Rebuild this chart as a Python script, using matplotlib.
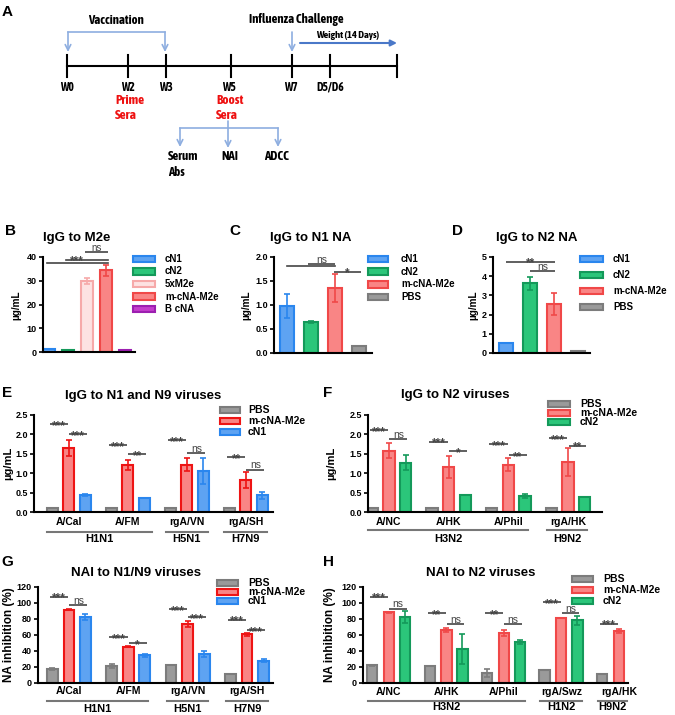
import matplotlib
matplotlib.use('Agg')
import matplotlib.pyplot as plt
import matplotlib.transforms as mtransforms
from matplotlib import font_manager
import numpy as np
from matplotlib.patches import Rectangle

# ---- data ----
b_labels = ['cN1', 'cN2', '5xM2e', 'm-cNA-M2e', 'B cNA']
b_vals = [1.1, 0.9, 30.0, 34.4, 1.0]
b_err = [0, 0, 1.3, 2.4, 0]

c_labels = ['cN1', 'cN2', 'm-cNA-M2e', 'PBS']
c_vals = [0.98, 0.64, 1.36, 0.14]
c_err = [0.25, 0.02, 0.29, 0]

d_labels = ['cN1', 'cN2', 'm-cNA-M2e', 'PBS']
d_vals = [0.54, 3.63, 2.56, 0.13]
d_err = [0, 0.35, 0.58, 0]

e_groups = ['A/Cal', 'A/FM', 'rgA/VN', 'rgA/SH']
e_pbs = [0.11, 0.11, 0.11, 0.11]
e_mcna = [1.65, 1.22, 1.22, 0.82]
e_mcna_err = [0.2, 0.13, 0.17, 0.2]
e_cn1 = [0.44, 0.36, 1.06, 0.43]
e_cn1_err = [0.03, 0, 0.34, 0.09]
e_sig = [[(2.26, '***'), (2.01, '***')], [(1.72, '***'), (1.49, '**')],
         [(1.85, '***'), (1.52, 'ns')], [(1.41, '**'), (1.09, 'ns')]]

f_groups = ['A/NC', 'A/HK', 'A/Phil', 'rgA/HK']
f_pbs = [0.11, 0.11, 0.11, 0.11]
f_mcna = [1.58, 1.16, 1.22, 1.29]
f_mcna_err = [0.19, 0.29, 0.16, 0.35]
f_cn2 = [1.27, 0.44, 0.41, 0.39]
f_cn2_err = [0.2, 0, 0.06, 0]
f_sig = [[(2.11, '***'), (1.87, 'ns')], [(1.81, '***'), (1.56, '*')],
         [(1.74, '***'), (1.47, '**')], [(1.90, '***'), (1.71, '**')]]

g_groups = ['A/Cal', 'A/FM', 'rgA/VN', 'rgA/SH']
g_pbs = [17.2, 21.0, 22.2, 11.7]
g_pbs_err = [1.0, 2.5, 0, 0]
g_mcna = [91.5, 45.3, 73.9, 60.8]
g_mcna_err = [0.5, 0.5, 3.5, 1.5]
g_cn1 = [82.2, 34.4, 36.0, 27.7]
g_cn1_err = [4.0, 1.5, 4.0, 2.0]
g_sig = [[(108, '***'), (97.8, 'ns')], [(57, '***'), (50, '*')],
         [(92, '***'), (82, '***')], [(79, '***'), (66, '***')]]

h_groups = ['A/NC', 'A/HK', 'A/Phil', 'rgA/Swz', 'rgA/HK']
h_pbs = [22.1, 20.8, 12.9, 15.8, 11.3]
h_pbs_err = [0.5, 0, 5.0, 0, 0]
h_mcna = [88.3, 65.8, 62.5, 81.3, 65.0]
h_mcna_err = [0.5, 2.5, 4.0, 0.5, 3.0]
h_cn2 = [82.5, 42.5, 51.3, 78.3, np.nan]
h_cn2_err = [7.0, 19.0, 2.0, 6.0, 0]
h_sig = [[(108, '***'), (93, 'ns')], [(87.5, '**'), (74, 'ns')],
         [(87.5, '**'), (74, 'ns')], [(101, '***'), (87.5, 'ns')], [(74, '***'), None]]

# colours
BLUE = ('#5ea3f2', '#2a86ee')
GREEN = ('#2bc67a', '#14995a')
RED = ('#f98585', '#f04848')
RED2 = ('#f98585', '#ee1414')
PINK = ('#fde2e2', '#f6a9a9')
PURP = ('#c43dcc', '#9c1fb0')
GRAY = ('#9a9a9a', '#7c7c7c')
LBLUE = '#8eaee0'
SIGC = '#444444'

W, H = 675, 715
plt.rcParams['font.family'] = ['Liberation Sans', 'DejaVu Sans']
plt.rcParams['font.weight'] = 'bold'

# schematic uses a bold narrow face if one is installed, else a smaller regular one
narrow = sorted({f.name for f in font_manager.fontManager.ttflist
                 if ('Narrow' in f.name or 'Condensed' in f.name)
                 and f.weight in (700, 'bold')})
if narrow:
    NARROW = [narrow[0], 'Liberation Sans', 'DejaVu Sans']
    NS = 1.0
else:
    NARROW = ['Liberation Sans', 'DejaVu Sans']
    NS = 0.86

fig = plt.figure(figsize=(6.75, 7.15), dpi=100)

# overlay in pixel coordinates for schematic, labels and legends
ov = fig.add_axes([0, 0, 1, 1])
ov.set_xlim(0, W)
ov.set_ylim(H, 0)
ov.axis('off')
ov.patch.set_visible(False)


def axrect(x0, x1, y0, y1):
    return fig.add_axes([x0 / W, 1 - y1 / H, (x1 - x0) / W, (y1 - y0) / H])


def style(ax, yticks, fmt, fs):
    for s in ['top', 'right']:
        ax.spines[s].set_visible(False)
    for s in ['left', 'bottom']:
        ax.spines[s].set_linewidth(1.5)
    ax.set_yticks(yticks)
    ax.set_yticklabels([fmt.format(v) for v in yticks], fontsize=fs, fontweight='bold')
    ax.tick_params(axis='y', length=3, width=1.2, pad=1.5)
    ax.set_xticks([])
    ax.patch.set_visible(False)


def legend(x, tx, y0, dy, labels, cols, hw=21, hh=6, fs=7):
    for i, (l, c) in enumerate(zip(labels, cols)):
        y = y0 + i * dy
        ov.add_patch(Rectangle((x, y - hh / 2), hw, hh, facecolor=c[0], edgecolor=c[1], lw=1.5))
        ov.text(tx, y, l, fontsize=fs, va='center', ha='left')


def sig_text(ax, x, y, t, fs_ns=7.5):
    if '*' in t:
        ax.annotate(t, xy=(x, y), xytext=(0, -3.4), textcoords='offset points',
                    ha='center', va='baseline', fontsize=8.5, color=SIGC,
                    annotation_clip=False)
    else:
        ax.annotate(t, xy=(x, y), xytext=(0, 0.9), textcoords='offset points',
                    ha='center', va='baseline', fontsize=fs_ns, color=SIGC,
                    fontweight='normal', annotation_clip=False)


def sig(ax, x0, x1, y, t, fs_ns=7.5):
    ax.plot([x0, x1], [y, y], color=SIGC, lw=1.2, clip_on=False, solid_capstyle='butt')
    sig_text(ax, (x0 + x1) / 2, y, t, fs_ns)


def bars(ax, x, vals, errs, cols, width):
    x = np.asarray(x, dtype=float)
    vals = np.asarray(vals, dtype=float)
    errs = np.asarray(errs, dtype=float)
    fcs = [c[0] for c in cols]
    ecs = [c[1] for c in cols]
    ax.bar(x, vals, width, color=fcs, edgecolor=ecs, lw=1.5)
    for xi, v, e, ec in zip(x, vals, errs, ecs):
        if e > 0 and not np.isnan(v):
            ax.errorbar(xi, v, yerr=e, fmt='none', ecolor=ec, elinewidth=1.2,
                        capsize=2.5, capthick=1.2)


def grouped(ax, series, offs, width, sigs, names, ylab, spans, snames, yline, yslab):
    for (vals, errs, col), o in zip(series, offs):
        n = len(vals)
        bars(ax, np.arange(n) + o, vals, errs, [col] * n, width)
    for i, pair in enumerate(sigs):
        if pair[0]:
            sig(ax, i - 0.32, i - 0.01, pair[0][0], pair[0][1])
        if pair[1]:
            sig(ax, i + 0.01, i + 0.31, pair[1][0], pair[1][1])
    tr = mtransforms.blended_transform_factory(ax.transData, ov.transData)
    for i, nm in enumerate(names):
        ax.text(i, ylab, nm, transform=tr, ha='center', va='center', fontsize=7.5, clip_on=False)
    for (a, b), nm in zip(spans, snames):
        ax.plot([a, b], [yline, yline], color='#777777', lw=1.5, transform=tr, clip_on=False)
        ax.text((a + b) / 2, yslab, nm, transform=tr, ha='center', va='center',
                fontsize=8, clip_on=False)


# ---------------- panel A ----------------
ov.text(7, 12, 'A', fontsize=11, ha='center', va='center')
ov.plot([67, 397], [66, 66], color='black', lw=1.5)
for tx in [67, 128, 166, 231, 292, 330, 397]:
    ov.plot([tx, tx], [55, 77], color='black', lw=1.5)
for tx, lab in zip([67, 128, 166, 229, 291, 330], ['W0', 'W2', 'W3', 'W5', 'W7', 'D5/D6']):
    ov.text(tx, 87.5, lab, fontsize=8.3 * NS, ha='center', va='center', family=NARROW)
ov.text(116, 20, 'Vaccination', fontsize=9.2 * NS, ha='center', va='center', family=NARROW)
ov.text(296, 20, 'Influenza Challenge', fontsize=9.2 * NS, ha='center', va='center', family=NARROW)
ov.text(348, 35.5, 'Weight (14 Days)', fontsize=7.5 * NS, ha='center', va='center', family=NARROW)
ov.plot([68, 165], [32, 32], color=LBLUE, lw=1.2)
for tx in [68, 165, 292]:
    ov.annotate('', xy=(tx, 52), xytext=(tx, 32),
                arrowprops=dict(arrowstyle='->', color=LBLUE, lw=1.2, shrinkA=0, shrinkB=0))
ov.annotate('', xy=(397, 43), xytext=(300, 43),
            arrowprops=dict(arrowstyle='-|>', color='#4a78c8', lw=1.5, shrinkA=0, shrinkB=0,
                            mutation_scale=9))
for tx, word in [(115, 'Prime'), (216, 'Boost')]:
    ov.text(tx, 100, word, fontsize=9.6 * NS, color='#ee1111', ha='left', va='center', family=NARROW)
    ov.text(tx, 115.5, 'Sera', fontsize=9.6 * NS, color='#ee1111', ha='left', va='center', family=NARROW)
ov.plot([180, 278], [128, 128], color=LBLUE, lw=1.2)
ov.annotate('', xy=(228, 148), xytext=(228, 121),
            arrowprops=dict(arrowstyle='->', color=LBLUE, lw=1.2, shrinkA=0, shrinkB=0))
for tx in [180, 278]:
    ov.annotate('', xy=(tx, 147), xytext=(tx, 128),
                arrowprops=dict(arrowstyle='->', color=LBLUE, lw=1.2, shrinkA=0, shrinkB=0))
ov.text(168, 157, 'Serum', fontsize=9.2 * NS, ha='left', va='center', family=NARROW)
ov.text(168, 172, 'Abs', fontsize=9.2 * NS, ha='left', va='center', family=NARROW)
ov.text(230, 157, 'NAI', fontsize=9.2 * NS, ha='center', va='center', family=NARROW)
ov.text(276, 157, 'ADCC', fontsize=9.2 * NS, ha='center', va='center', family=NARROW)

# ---------------- panel B ----------------
axb = axrect(43, 135, 257, 352)
bars(axb, np.arange(5), b_vals, b_err, [BLUE, GREEN, PINK, RED, PURP], 0.63)
axb.set_xlim(-0.32, 4.5)
axb.set_ylim(0, 40)
style(axb, [0, 10, 20, 30, 40], '{:.0f}', 6.5)
axb.plot([-0.1, 3.1], [37.6, 37.6], color=SIGC, lw=1.2, clip_on=False)
axb.plot([0.9, 3.1], [38.7, 38.7], color=SIGC, lw=1.2, clip_on=False)
sig_text(axb, 1.45, 39.0, '***')
sig(axb, 1.9, 3.1, 42.0, 'ns', fs_ns=7)
ov.text(5, 231, 'B', fontsize=11, ha='left', va='center')
ov.text(77, 237.5, 'IgG to M2e', fontsize=9.5, ha='center', va='center')
ov.text(16, 305, 'µg/mL', fontsize=7.2, rotation=90, ha='center', va='center')
legend(133, 165, 259, 12.5, b_labels, [BLUE, GREEN, PINK, RED, PURP], hw=22, hh=6.5)

# ---------------- panel C ----------------
axc = axrect(274, 372, 257, 353)
bars(axc, np.arange(4), c_vals, c_err, [BLUE, GREEN, RED, GRAY], 0.56)
axc.set_xlim(-0.54, 3.54)
axc.set_ylim(0, 2.0)
style(axc, [0, 0.5, 1.0, 1.5, 2.0], '{:.1f}', 6.5)
axc.plot([0, 2.0], [1.81, 1.81], color=SIGC, lw=1.2, clip_on=False)
sig(axc, 0.88, 2.0, 1.85, 'ns')
sig(axc, 1.96, 3.08, 1.69, '*')
ov.text(229, 231, 'C', fontsize=11, ha='left', va='center')
ov.text(311, 238, 'IgG to N1 NA', fontsize=9.5, ha='center', va='center')
ov.text(246, 305, 'µg/mL', fontsize=7.2, rotation=90, ha='center', va='center')
legend(368, 401, 259, 12.7, c_labels, [BLUE, GREEN, RED, GRAY], hw=20, hh=6.5)

# ---------------- panel D ----------------
axd = axrect(493, 590, 257, 353)
bars(axd, np.arange(4), d_vals, d_err, [BLUE, GREEN, RED, GRAY], 0.58)
axd.set_xlim(-0.54, 3.5)
axd.set_ylim(0, 5)
style(axd, [0, 1, 2, 3, 4, 5], '{:.0f}', 6.5)
sig(axd, 0, 2.04, 4.75, '**')
sig(axd, 1.0, 2.04, 4.27, 'ns')
ov.text(452, 231, 'D', fontsize=11, ha='left', va='center')
ov.text(537, 238, 'IgG to N2 NA', fontsize=9.5, ha='center', va='center')
ov.text(473, 305, 'µg/mL', fontsize=7.2, rotation=90, ha='center', va='center')
legend(580, 613, 259, 16, d_labels, [BLUE, GREEN, RED, GRAY], hw=23, hh=6.5)

# ---------------- panel E ----------------
axe = axrect(34, 273, 415, 512)
grouped(axe, [(e_pbs, [0] * 4, GRAY), (e_mcna, e_mcna_err, RED2), (e_cn1, e_cn1_err, BLUE)],
        [-0.28, 0, 0.28], 0.19, e_sig, e_groups, 522,
        [(-0.37, 1.41), (1.64, 2.36), (2.63, 3.36)], ['H1N1', 'H5N1', 'H7N9'], 532, 539)
axe.set_xlim(-0.59, 3.46)
axe.set_ylim(0, 2.5)
style(axe, [0, 0.5, 1.0, 1.5, 2.0, 2.5], '{:.1f}', 6.5)
ov.text(7, 393, 'E', fontsize=11, ha='center', va='center')
ov.text(143, 396, 'IgG to N1 and N9 viruses', fontsize=9.5, ha='center', va='center')
ov.text(8, 463, 'µg/mL', fontsize=8, rotation=90, ha='center', va='center')
legend(220, 248, 410, 11, ['PBS', 'm-cNA-M2e', 'cN1'], [GRAY, RED2, BLUE], hw=20, hh=5.5, fs=7.5)

# ---------------- panel F ----------------
axf = axrect(368, 602, 415, 512)
grouped(axf, [(f_pbs, [0] * 4, GRAY), (f_mcna, f_mcna_err, RED), (f_cn2, f_cn2_err, GREEN)],
        [-0.28, 0, 0.28], 0.19, f_sig, f_groups, 522,
        [(-0.35, 2.33), (2.65, 3.32)], ['H3N2', 'H9N2'], 530, 539)
axf.set_xlim(-0.35, 3.57)
axf.set_ylim(0, 2.5)
style(axf, [0, 0.5, 1.0, 1.5, 2.0, 2.5], '{:.1f}', 6.5)
ov.text(328, 393, 'F', fontsize=11, ha='center', va='center')
ov.text(455, 395, 'IgG to N2 viruses', fontsize=9.5, ha='center', va='center')
ov.text(331, 463, 'µg/mL', fontsize=8, rotation=90, ha='center', va='center')
legend(548, 580, 404, 9, ['PBS', 'm-cNA-M2e', 'cN2'], [GRAY, RED, GREEN], hw=22, hh=5.5, fs=7.5)

# ---------------- panel G ----------------
axg = axrect(38, 273, 587, 683)
grouped(axg, [(g_pbs, g_pbs_err, GRAY), (g_mcna, g_mcna_err, RED2), (g_cn1, g_cn1_err, BLUE)],
        [-0.28, 0, 0.28], 0.18, g_sig, g_groups, 690.5,
        [(-0.37, 1.33), (1.65, 2.34), (2.65, 3.36)], ['H1N1', 'H5N1', 'H7N9'], 700.7, 709)
axg.set_xlim(-0.52, 3.44)
axg.set_ylim(0, 120)
style(axg, [0, 20, 40, 60, 80, 100, 120], '{:.0f}', 6.5)
ov.text(7, 562, 'G', fontsize=11, ha='center', va='center')
ov.text(136, 573, 'NAI to N1/N9 viruses', fontsize=9.5, ha='center', va='center')
ov.text(9, 635, 'NA inhibition (%)', fontsize=8.5, rotation=90, ha='center', va='center')
legend(217, 248, 583, 9, ['PBS', 'm-cNA-M2e', 'cN1'], [GRAY, RED2, BLUE], hw=21, hh=5.5, fs=7.5)

# ---------------- panel H ----------------
axh = axrect(363, 628, 587, 683)
grouped(axh, [(h_pbs, h_pbs_err, GRAY), (h_mcna, h_mcna_err, RED), (h_cn2, h_cn2_err, GREEN)],
        [-0.29, 0, 0.28], 0.18, h_sig, h_groups, 692,
        [(-0.37, 2.37), (2.63, 3.36), (3.63, 4.14)], ['H3N2', 'H1N2', 'H9N2'], 700.7, 707.5)
axh.set_xlim(-0.45, 4.16)
axh.set_ylim(0, 120)
style(axh, [0, 20, 40, 60, 80, 100, 120], '{:.0f}', 6.5)
ov.text(328, 562, 'H', fontsize=11, ha='center', va='center')
ov.text(481, 573, 'NAI to N2 viruses', fontsize=9.5, ha='center', va='center')
ov.text(330, 635, 'NA inhibition (%)', fontsize=8.5, rotation=90, ha='center', va='center')
legend(572, 603, 579, 11, ['PBS', 'm-cNA-M2e', 'cN2'], [GRAY, RED, GREEN], hw=21, hh=5.5, fs=7.5)

fig.savefig('out.png', dpi=100)
